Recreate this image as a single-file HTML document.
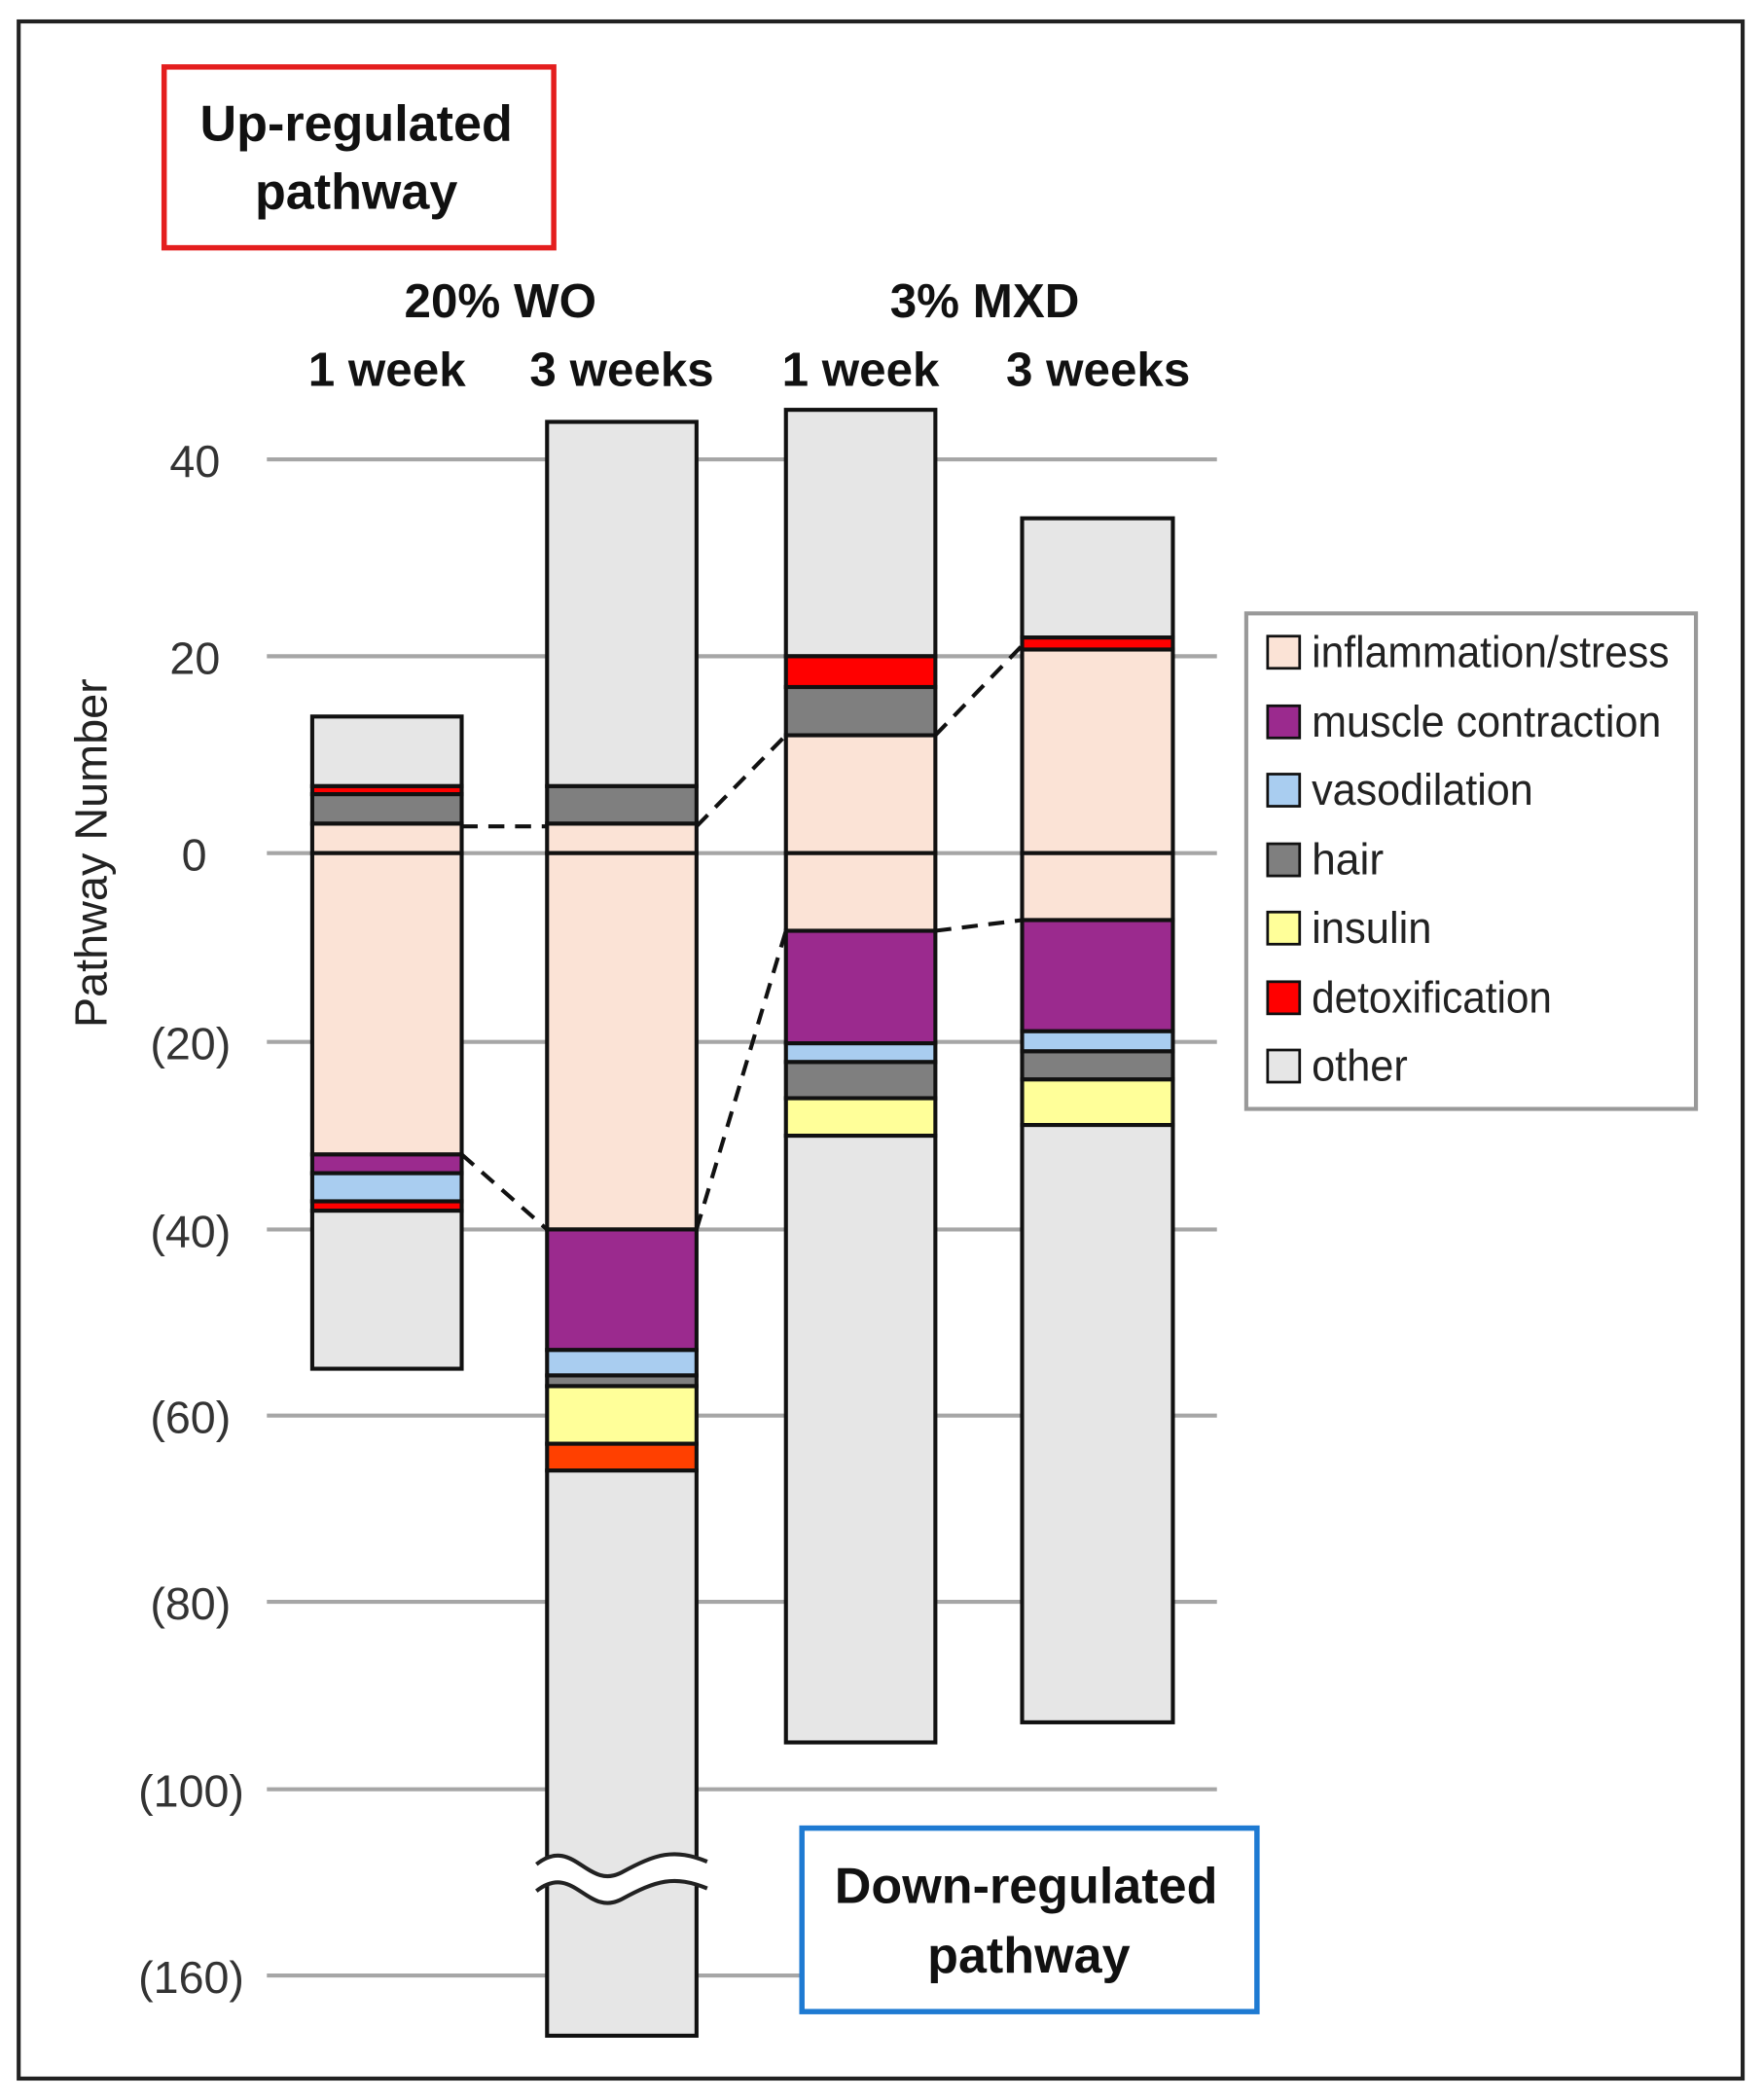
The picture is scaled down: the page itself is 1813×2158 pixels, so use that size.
<!DOCTYPE html>
<html><head><meta charset="utf-8"><style>
html,body{margin:0;padding:0;background:#fff;}
svg{display:block;}
text{font-family:"Liberation Sans",Arial,sans-serif;}
</style></head><body>
<svg width="1813" height="2158" viewBox="0 0 1322 1568" preserveAspectRatio="none" xmlns="http://www.w3.org/2000/svg">
<rect x="0" y="0" width="1322" height="1568" fill="#fff"/>
<rect x="14" y="16" width="1292" height="1536" fill="none" stroke="#222" stroke-width="3"/>
<g stroke="#a6a6a6" stroke-width="3">
<line x1="200" y1="343" x2="912" y2="343"/><line x1="200" y1="490" x2="912" y2="490"/>
<line x1="200" y1="637" x2="912" y2="637"/><line x1="200" y1="778" x2="912" y2="778"/>
<line x1="200" y1="918" x2="912" y2="918"/><line x1="200" y1="1057" x2="912" y2="1057"/>
<line x1="200" y1="1196" x2="912" y2="1196"/><line x1="200" y1="1336" x2="912" y2="1336"/>
<line x1="200" y1="1475" x2="912" y2="1475"/>
</g>
<g font-size="34" fill="#333" text-anchor="end">
<text x="165" y="356">40</text><text x="165" y="503">20</text><text x="155" y="650">0</text>
<text x="173" y="791">(20)</text><text x="173" y="931">(40)</text><text x="173" y="1070">(60)</text>
<text x="173" y="1209">(80)</text><text x="183" y="1349">(100)</text><text x="183" y="1488">(160)</text>
</g>
<text transform="translate(80,637) rotate(-90)" font-size="34" fill="#222" text-anchor="middle">Pathway Number</text>
<g stroke="#111" stroke-width="3">
<rect x="234" y="535" width="112" height="52" fill="#e6e6e6"/>
<rect x="234" y="587" width="112" height="6" fill="#ff0000"/>
<rect x="234" y="593" width="112" height="22" fill="#7f7f7f"/>
<rect x="234" y="615" width="112" height="22" fill="#fbe3d6"/>
<rect x="234" y="637" width="112" height="225" fill="#fbe3d6"/>
<rect x="234" y="862" width="112" height="14" fill="#9b2a8e"/>
<rect x="234" y="876" width="112" height="21" fill="#a9cdf0"/>
<rect x="234" y="897" width="112" height="7" fill="#ff0000"/>
<rect x="234" y="904" width="112" height="118" fill="#e6e6e6"/>
<rect x="410" y="315" width="112" height="272" fill="#e6e6e6"/>
<rect x="410" y="587" width="112" height="28" fill="#7f7f7f"/>
<rect x="410" y="615" width="112" height="22" fill="#fbe3d6"/>
<rect x="410" y="637" width="112" height="281" fill="#fbe3d6"/>
<rect x="410" y="918" width="112" height="90" fill="#9b2a8e"/>
<rect x="410" y="1008" width="112" height="19" fill="#a9cdf0"/>
<rect x="410" y="1027" width="112" height="8" fill="#7f7f7f"/>
<rect x="410" y="1035" width="112" height="43" fill="#ffff99"/>
<rect x="410" y="1078" width="112" height="20" fill="#ff4000"/>
<rect x="410" y="1098" width="112" height="422" fill="#e6e6e6"/>
<rect x="589" y="306" width="112" height="184" fill="#e6e6e6"/>
<rect x="589" y="490" width="112" height="23" fill="#ff0000"/>
<rect x="589" y="513" width="112" height="36" fill="#7f7f7f"/>
<rect x="589" y="549" width="112" height="88" fill="#fbe3d6"/>
<rect x="589" y="637" width="112" height="58" fill="#fbe3d6"/>
<rect x="589" y="695" width="112" height="84" fill="#9b2a8e"/>
<rect x="589" y="779" width="112" height="14" fill="#a9cdf0"/>
<rect x="589" y="793" width="112" height="27" fill="#7f7f7f"/>
<rect x="589" y="820" width="112" height="28" fill="#ffff99"/>
<rect x="589" y="848" width="112" height="453" fill="#e6e6e6"/>
<rect x="766" y="387" width="113" height="89" fill="#e6e6e6"/>
<rect x="766" y="476" width="113" height="9" fill="#ff0000"/>
<rect x="766" y="485" width="113" height="152" fill="#fbe3d6"/>
<rect x="766" y="637" width="113" height="50" fill="#fbe3d6"/>
<rect x="766" y="687" width="113" height="83" fill="#9b2a8e"/>
<rect x="766" y="770" width="113" height="15" fill="#a9cdf0"/>
<rect x="766" y="785" width="113" height="21" fill="#7f7f7f"/>
<rect x="766" y="806" width="113" height="34" fill="#ffff99"/>
<rect x="766" y="840" width="113" height="446" fill="#e6e6e6"/>
</g>
<path d="M402,1392 C430,1370 440,1412 466,1398 C492,1384 505,1380 530,1390 L530,1410 C505,1400 492,1404 466,1418 C440,1432 430,1390 402,1412 Z" fill="#fff"/>
<path d="M402,1392 C430,1370 440,1412 466,1398 C492,1384 505,1380 530,1390" fill="none" stroke="#222" stroke-width="3"/>
<path d="M402,1412 C430,1390 440,1432 466,1418 C492,1404 505,1400 530,1410" fill="none" stroke="#222" stroke-width="3"/>
<g stroke="#111" stroke-width="3" stroke-dasharray="12,8" fill="none">
<line x1="346" y1="617" x2="410" y2="617"/><line x1="522" y1="617" x2="589" y2="549"/>
<line x1="701" y1="549" x2="766" y2="482"/><line x1="346" y1="862" x2="410" y2="918"/>
<line x1="522" y1="918" x2="589" y2="695"/><line x1="701" y1="695" x2="766" y2="687"/>
</g>
<g font-size="36" font-weight="bold" fill="#111" text-anchor="middle">
<text x="375" y="237">20% WO</text><text x="738" y="237">3% MXD</text>
<text x="290" y="288">1 week</text><text x="466" y="288">3 weeks</text>
<text x="645" y="288">1 week</text><text x="823" y="288">3 weeks</text>
</g>
<rect x="123" y="50" width="292" height="135" fill="#fff" stroke="#e41e1e" stroke-width="4"/>
<g font-size="38" font-weight="bold" fill="#111" text-anchor="middle">
<text x="267" y="105">Up-regulated</text><text x="267" y="156">pathway</text>
</g>
<rect x="601" y="1365" width="341" height="137" fill="#fff" stroke="#1e7ad2" stroke-width="4"/>
<g font-size="38" font-weight="bold" fill="#111" text-anchor="middle">
<text x="769" y="1421">Down-regulated</text><text x="771" y="1473">pathway</text>
</g>
<rect x="934" y="458" width="337" height="370" fill="#fff" stroke="#999" stroke-width="3"/>
<g stroke="#111" stroke-width="2">
<rect x="950" y="475" width="24" height="24" fill="#fbe3d6"/>
<rect x="950" y="527" width="24" height="24" fill="#9b2a8e"/>
<rect x="950" y="578" width="24" height="24" fill="#a9cdf0"/>
<rect x="950" y="630" width="24" height="24" fill="#7f7f7f"/>
<rect x="950" y="681" width="24" height="24" fill="#ffff99"/>
<rect x="950" y="733" width="24" height="24" fill="#ff0000"/>
<rect x="950" y="784" width="24" height="24" fill="#e6e6e6"/>
</g>
<g font-size="33" fill="#222">
<text x="983" y="498" textLength="268" lengthAdjust="spacingAndGlyphs">inflammation/stress</text>
<text x="983" y="550" textLength="262" lengthAdjust="spacingAndGlyphs">muscle contraction</text>
<text x="983" y="601" textLength="166" lengthAdjust="spacingAndGlyphs">vasodilation</text>
<text x="983" y="653" textLength="54" lengthAdjust="spacingAndGlyphs">hair</text>
<text x="983" y="704" textLength="90" lengthAdjust="spacingAndGlyphs">insulin</text>
<text x="983" y="756" textLength="180" lengthAdjust="spacingAndGlyphs">detoxification</text>
<text x="983" y="807" textLength="72" lengthAdjust="spacingAndGlyphs">other</text>
</g>
</svg>
</body></html>
